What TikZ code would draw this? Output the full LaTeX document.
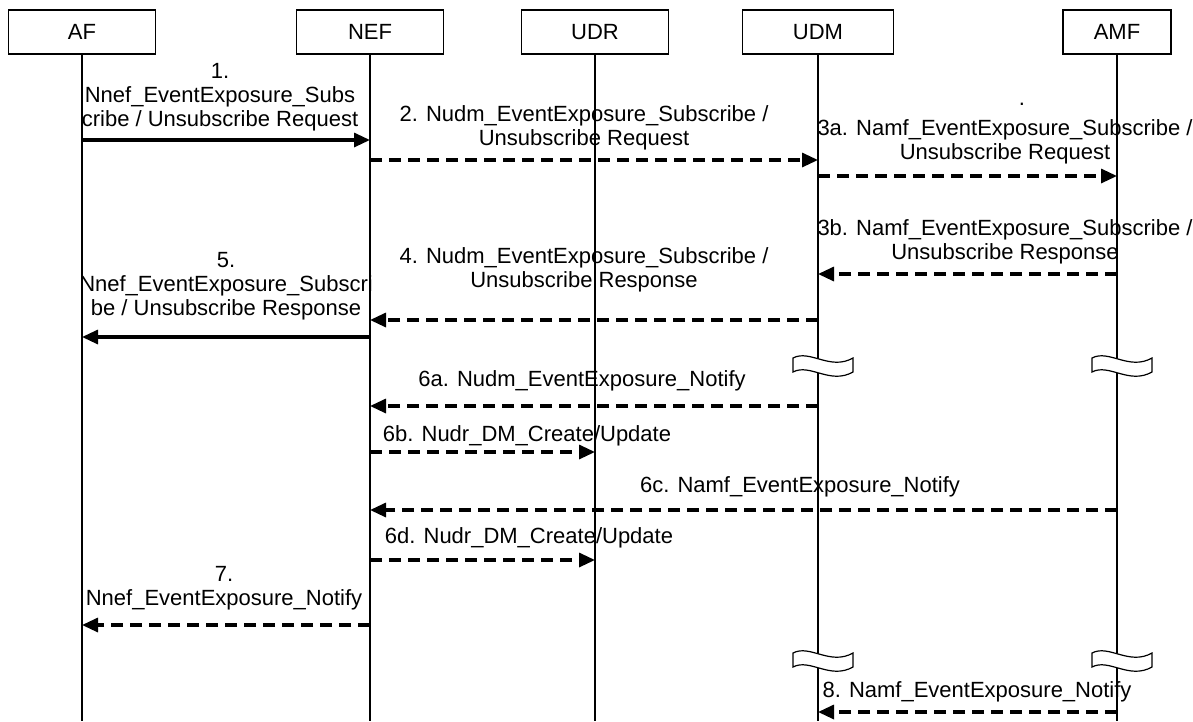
\documentclass[tikz,border=0pt]{standalone}
\usepackage{fontspec}
\setmainfont{Liberation Sans}
\usetikzlibrary{arrows.meta,positioning}

\begin{document}
\begin{tikzpicture}[
  x=1pt,y=-1pt,
  every node/.style={font=\fontsize{22}{24}\selectfont},
  entity/.style={draw,line width=1.5pt,minimum width=147pt,minimum height=44pt,inner sep=0pt},
  lifeline/.style={line width=1.5pt},
  msg/.style={line width=3.2pt,-{Triangle[length=16pt,width=14pt]}},
  reply/.style={msg,dash pattern=on 12pt off 7pt},
  lbl/.style={align=center,inner sep=0pt},
  brkmark/.pic={
    \draw[line width=1.2pt,fill=white] (-25,-7) .. controls (-8,-16) and (12,6) .. (35,-7)
      -- (35,7) .. controls (12,20) and (-8,-2) .. (-25,7) -- cycle;
  },
]
  \useasboundingbox (0,0) rectangle (1193,721);
  % Entities
  \node[entity] (af) at (82,32) {AF};
  \node[entity] (nef) at (370,32) {NEF};
  \node[entity] (udr) at (595,32) {UDR};
  \node[entity,minimum width=151pt] (udm) at (818,32) {UDM};
  \node[entity,minimum width=108pt] (amf) at (1117,32) {AMF};
  % Lifelines
  \coordinate (bot) at (0,721);
  \foreach \n in {af,nef,udr,udm,amf}
    \draw[lifeline] (\n.south) -- (\n |- bot);
  % Message rows
  \coordinate (m1) at (0,140);
  \coordinate (m2) at (0,160);
  \coordinate (m3a) at (0,176);
  \coordinate (m3b) at (0,274);
  \coordinate (m4) at (0,320);
  \coordinate (m5) at (0,337);
  \coordinate (m6a) at (0,406);
  \coordinate (m6b) at (0,452);
  \coordinate (m6c) at (0,510);
  \coordinate (m6d) at (0,560);
  \coordinate (m7) at (0,625);
  \coordinate (m8) at (0,712);
  % Breaks
  \coordinate (k1) at (0,365);
  \coordinate (k2) at (0,660);
  \pic at (udm |- k1) {brkmark};
  \pic at (amf |- k1) {brkmark};
  \pic at (udm |- k2) {brkmark};
  \pic at (amf |- k2) {brkmark};
  % Subscribe / Unsubscribe
  \draw[msg] (af |- m1) -- (nef |- m1);
  \draw[reply] (nef |- m2) -- (udm |- m2);
  \draw[reply] (udm |- m3a) -- (amf |- m3a);
  \draw[reply] (amf |- m3b) -- (udm |- m3b);
  \draw[reply] (udm |- m4) -- (nef |- m4);
  \draw[msg] (nef |- m5) -- (af |- m5);
  % Notifications
  \draw[reply] (udm |- m6a) -- (nef |- m6a);
  \draw[reply] (nef |- m6b) -- (udr |- m6b);
  \draw[reply] (amf |- m6c) -- (nef |- m6c);
  \draw[reply] (nef |- m6d) -- (udr |- m6d);
  \draw[reply] (nef |- m7) -- (af |- m7);
  \draw[reply] (amf |- m8) -- (udm |- m8);
  % Labels
  \node[lbl] (l1) at (220,97) {1.\\Nnef\_EventExposure\_Subs\\cribe / Unsubscribe Request};
  \node[lbl] (l2) at (584,128) {2. Nudm\_EventExposure\_Subscribe /\\Unsubscribe Request};
  \node[lbl] (dot) at (1022,104) {.};
  \node[lbl] (l3a) at (1005,142) {3a. Namf\_EventExposure\_Subscribe /\\Unsubscribe Request};
  \node[lbl] (l3b) at (1005,242) {3b. Namf\_EventExposure\_Subscribe /\\Unsubscribe Response};
  \node[lbl] (l4) at (584,270) {4. Nudm\_EventExposure\_Subscribe /\\Unsubscribe Response};
  \node[lbl] (l5) at (226,286) {5.\\Nnef\_EventExposure\_Subscri\\be / Unsubscribe Response};
  \node[lbl] (l6a) at (582,381) {6a. Nudm\_EventExposure\_Notify};
  \node[lbl] (l6b) at (527,436) {6b. Nudr\_DM\_Create/Update};
  \node[lbl] (l6c) at (800,487) {6c. Namf\_EventExposure\_Notify};
  \node[lbl] (l6d) at (529,538) {6d. Nudr\_DM\_Create/Update};
  \node[lbl] (l7) at (224,588) {7.\\Nnef\_EventExposure\_Notify};
  \node[lbl] (l8) at (977,692) {8. Namf\_EventExposure\_Notify};
\end{tikzpicture}
\end{document}
